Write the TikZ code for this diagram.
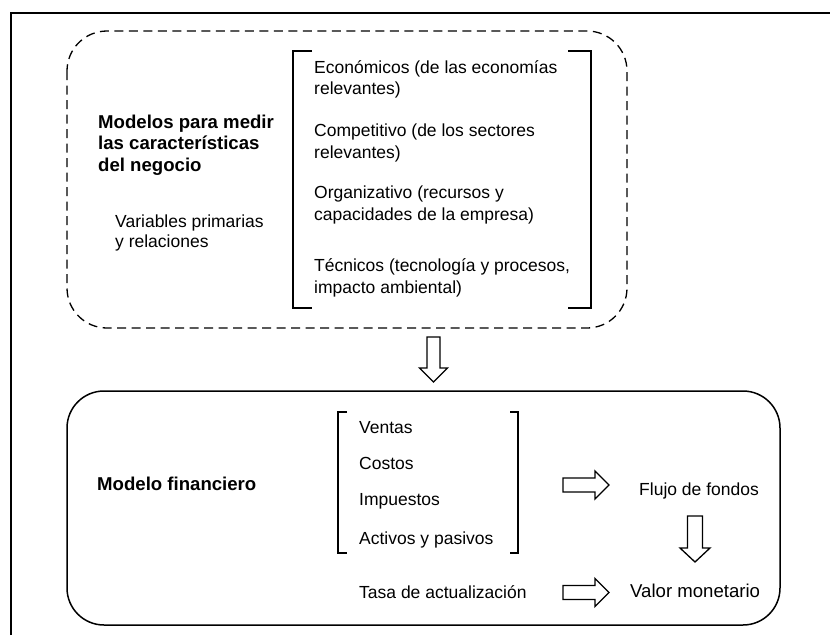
\documentclass[tikz,border=0pt]{standalone}
\usepackage{fontspec}
\setmainfont{Liberation Sans}
\begin{document}
\begin{tikzpicture}[x=1pt,y=-1pt,
  txt/.style={anchor=base west,inner sep=0pt,font=\fontsize{17.5}{21}\selectfont},
  bold/.style={anchor=base west,inner sep=0pt,font=\fontsize{18.6}{22}\selectfont\bfseries},
  big/.style={anchor=base west,inner sep=0pt,font=\fontsize{18.6}{22}\selectfont},
  frame/.style={line width=2pt},
  dashbox/.style={line width=1.3pt,dash pattern=on 9pt off 5.5pt,rounded corners=40pt},
  solidbox/.style={line width=1.5pt,rounded corners=37pt},
  brack/.style={line width=1.2pt},
  arrline/.style={draw,fill=white,line width=1.3pt,line join=miter},
  pics/blockarr/.style n args={4}{code={
    \draw[arrline] (0,-#2) -- (#1-#4,-#2) -- (#1-#4,-#3) -- (#1,0) -- (#1-#4,#3) -- (#1-#4,#2) -- (0,#2) -- cycle;}}
]
\useasboundingbox (0,0) rectangle (830,635);
% outer frame (open)
\draw[frame] (11,635) -- (11,13) -- (830,13);
% boxes
\draw[dashbox] (67,31) rectangle (627,328);
\draw[solidbox] (67,391) rectangle (780,625);
% top section texts
\node[bold] (m1) at (98,128) {Modelos para medir};
\node[bold] (m2) at (98,149.5) {las características};
\node[bold] (m3) at (98,171) {del negocio};
\node[txt] (v1) at (115,227) {Variables primarias};
\node[txt] (v2) at (115,247) {y relaciones};
\node[txt] (e1) at (314,73) {Económicos (de las economías};
\node[txt] (e2) at (314,94.5) {relevantes)};
\node[txt] (c1) at (314,136.5) {Competitivo (de los sectores};
\node[txt] (c2) at (314,158) {relevantes)};
\node[txt] (o1) at (314,198.5) {Organizativo (recursos y};
\node[txt] (o2) at (314,220) {capacidades de la empresa)};
\node[txt] (t1) at (314,271.5) {Técnicos (tecnología y procesos,};
\node[txt] (t2) at (314,293) {impacto ambiental)};
% top brackets
\draw[brack] (312,51) -- (293,51) -- (293,308) -- (312,308);
\draw[brack] (568,51) -- (591,51) -- (591,308) -- (568,308);
% bottom section texts
\node[bold] (mf) at (97,490) {Modelo financiero};
\node[txt] (ve) at (359,433) {Ventas};
\node[txt] (co) at (359,469) {Costos};
\node[txt] (im) at (359,505) {Impuestos};
\node[txt] (ac) at (359,544) {Activos y pasivos};
\node[txt] (ta) at (359,598) {Tasa de actualización};
\node[txt] (fl) at (639,495) {Flujo de fondos};
\node[big] (va) at (630,597) {Valor monetario};
% bottom brackets
\draw[brack] (347,412) -- (338,412) -- (338,553) -- (347,553);
\draw[brack] (510,412) -- (518,412) -- (518,553) -- (510,553);
% block arrows
\pic[rotate=-90] at (433.5,337) {blockarr={45}{6.5}{14}{14}};
\pic at (563,485) {blockarr={46}{7}{14}{14}};
\pic at (563,592.5) {blockarr={46}{7}{14}{14}};
\pic[rotate=-90] at (695,516) {blockarr={46}{7.5}{15}{14}};
\end{tikzpicture}
\end{document}
